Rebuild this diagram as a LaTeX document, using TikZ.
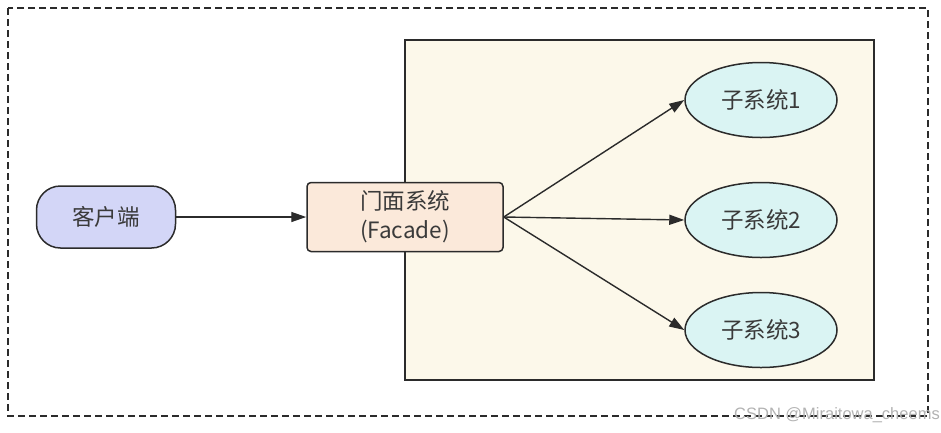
\documentclass[tikz,border=0pt]{standalone}
\usepackage{fontspec}
\setmainfont{Noto Sans CJK SC}
\newfontfamily\markfont{Liberation Sans}
\usetikzlibrary{arrows.meta,shapes.geometric}
\definecolor{linecol}{HTML}{2B2B2B}
\definecolor{textcol}{HTML}{3A3A3A}
\definecolor{clientfill}{HTML}{D3D6F7}
\definecolor{facadefill}{HTML}{FBE9DA}
\definecolor{subfill}{HTML}{DAF4F3}
\definecolor{areafill}{HTML}{FCF8EA}
\tikzset{
  client/.style={draw=linecol,line width=1.5pt,fill=clientfill,rounded corners=24pt,
    minimum width=139pt,minimum height=62pt,text=textcol},
  facade/.style={draw=linecol,line width=1.5pt,fill=facadefill,rounded corners=4pt,
    minimum width=196pt,minimum height=69pt,inner sep=0pt,text=textcol,align=center},
  subsys/.style={ellipse,draw=linecol,line width=1.5pt,fill=subfill,
    minimum width=152pt,minimum height=75pt,inner sep=0pt,text=textcol},
  link/.style={draw=linecol,line width=1.4pt,-{Triangle[length=15pt,width=10pt]}}
}
\begin{document}
\begin{tikzpicture}[x=1pt,y=-1pt,font=\fontsize{22.5}{29}\selectfont]
	\useasboundingbox (0,0) rectangle (941,432);
	\draw[linecol,line width=1.3pt,dash pattern=on 7pt off 4pt](8,8) rectangle (928,416);
	\draw[linecol,line width=1.5pt,fill=areafill](405,40) rectangle (874,380);
	\node[client] (client) at (106,217) {客户端};
	\node[facade] (facade) at (405,217) {门面系统\\(Facade)};
	\node[subsys] (sub1) at (761,100) {子系统1};
	\node[subsys] (sub2) at (761,220) {子系统2};
	\node[subsys] (sub3) at (761,330) {子系统3};
	\draw[link](client.east)--(facade.west);
	\draw[link](facade.east)--(sub1.west);
	\draw[link](facade.east)--(sub2.west);
	\draw[link](facade.east)--(sub3.west);
	\node[font=\markfont\fontsize{16.5}{18}\selectfont,text=gray!60,anchor=east,inner sep=1pt] (mark) at (941,415) {CSDN @Miraitowa\_cheems};
\end{tikzpicture}
\end{document}
